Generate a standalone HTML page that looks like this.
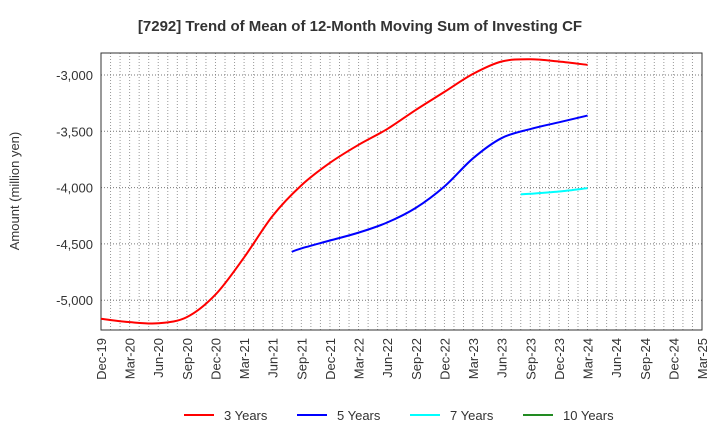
<!DOCTYPE html>
<html><head><meta charset="utf-8"><style>
body{margin:0;background:#fff;font-family:"Liberation Sans",sans-serif}
svg text{font-family:"Liberation Sans",sans-serif;fill:#333}
</style></head><body>
<svg id="c" width="720" height="440" xmlns="http://www.w3.org/2000/svg">
<text x="360" y="31" text-anchor="middle" font-size="15" font-weight="bold">[7292]  Trend of Mean of 12-Month Moving Sum of Investing CF</text>
<text transform="translate(19,191) rotate(-90)" text-anchor="middle" font-size="13">Amount (million yen)</text>
<g id="grid"></g><g id="axes"></g><g id="series"></g><g id="legend"></g>
</svg>
<script>
const xLabels=["Dec-19","Mar-20","Jun-20","Sep-20","Dec-20","Mar-21","Jun-21","Sep-21","Dec-21","Mar-22","Jun-22","Sep-22","Dec-22","Mar-23","Jun-23","Sep-23","Dec-23","Mar-24","Jun-24","Sep-24","Dec-24","Mar-25"];
const yTicks=[-3000,-3500,-4000,-4500,-5000];
// month offsets from Dec-19
const red3Months=[0,3,6,9,12,15,18,21,24,27,30,33,36,39,42,45,48,51];
const red3=[-5165,-5195,-5205,-5150,-4950,-4620,-4250,-3980,-3780,-3620,-3480,-3310,-3150,-2990,-2880,-2860,-2880,-2910];
const blue5Months=[20,21,24,27,30,33,36,39,42,45,48,51];
const blue5=[-4570,-4540,-4470,-4400,-4310,-4180,-3990,-3740,-3560,-3480,-3420,-3360];
const cyan7Months=[44,45,48,51];
const cyan7=[-4060,-4055,-4035,-4005];
const seriesNames=["3 Years","5 Years","7 Years","10 Years"];
const colors=["#ff0000","#0000ff","#00ffff","#228b22"];
const L=101,R=702,T=53,B=330;
const X=m=>L+m*(R-L)/63;
const Y=v=>75+(-3000-v)*(56.3/500);
const ns="http://www.w3.org/2000/svg";
function mk(p,t,a){const e=document.createElementNS(ns,t);for(const k in a)e.setAttribute(k,a[k]);p.appendChild(e);return e;}
const g=document.getElementById('grid'),ax=document.getElementById('axes'),sg=document.getElementById('series'),lg=document.getElementById('legend');
for(let m=1;m<63;m++){const l=mk(g,'line',{x1:X(m),x2:X(m),y1:T,y2:B,stroke:'#999','stroke-dasharray':'1,2','stroke-width':1});

}
yTicks.forEach(v=>{const l=mk(g,'line',{x1:L,x2:R,y1:Y(v),y2:Y(v),stroke:'#777','stroke-dasharray':'1,2'});


const t=mk(ax,'text',{x:L-8,y:Y(v)+5,'text-anchor':'end','font-size':13});t.textContent=v.toLocaleString('en-US');

});
const fr=mk(ax,'rect',{x:L,y:T,width:R-L,height:B-T,fill:'none',stroke:'#333'});


xLabels.forEach((s,i)=>{const x=X(i*3);const t=mk(ax,'text',{transform:`translate(${x+5},${B+8}) rotate(-90)`,'text-anchor':'end','font-size':13});t.textContent=s;

});
function path(ms,vs){const p=ms.map((m,i)=>[X(m),Y(vs[i])]);let d=`M${p[0][0]},${p[0][1]}`;
for(let i=0;i<p.length-1;i++){const p0=p[i-1]||p[i],p1=p[i],p2=p[i+1],p3=p[i+2]||p2;
d+=` C${p1[0]+(p2[0]-p0[0])/6},${p1[1]+(p2[1]-p0[1])/6} ${p2[0]-(p3[0]-p1[0])/6},${p2[1]-(p3[1]-p1[1])/6} ${p2[0]},${p2[1]}`;}return d;}
[[red3Months,red3,0,'series-3-years'],[blue5Months,blue5,1,'series-5-years'],[cyan7Months,cyan7,2,'series-7-years']].forEach(([m,v,c,n])=>{
const e=mk(sg,'path',{d:path(m,v),fill:'none',stroke:colors[c],'stroke-width':2});

});
const lx=[184,297,410,523];
seriesNames.forEach((s,i)=>{const l=mk(lg,'line',{x1:lx[i],x2:lx[i]+30,y1:415,y2:415,stroke:colors[i],'stroke-width':2});


const t=mk(lg,'text',{x:lx[i]+40,y:420,'font-size':13});t.textContent=s;

});
</script>
</body></html>
